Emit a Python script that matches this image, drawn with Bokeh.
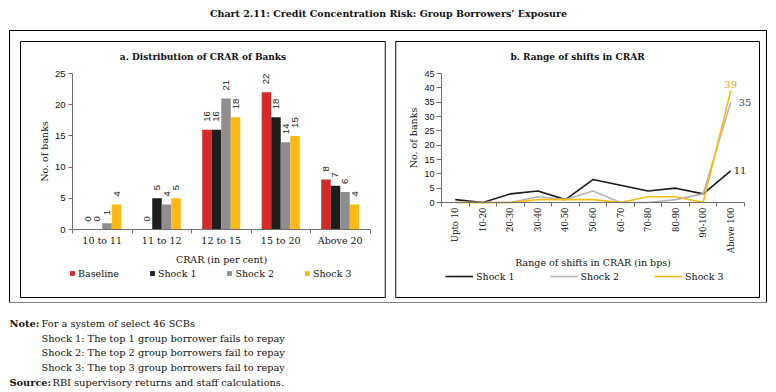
import numpy as np
from bokeh.plotting import figure
from bokeh.layouts import column, row
from bokeh.models import ColumnDataSource, Range1d, FixedTicker, Label, Span
from bokeh.core.properties import value
from bokeh.transform import dodge
from bokeh.embed import file_html
from bokeh.resources import INLINE

# ---------------- data ----------------
crar_bins = ["10 to 11", "11 to 12", "12 to 15", "15 to 20", "Above 20"]
baseline = [0, 0, 16, 22, 8]
shock1_bars = [0, 5, 16, 18, 7]
shock2_bars = [1, 4, 21, 14, 6]
shock3_bars = [4, 5, 18, 15, 4]
bar_series = ["Baseline", "Shock 1", "Shock 2", "Shock 3"]

shift_bins = ["Upto 10", "10-20", "20-30", "30-40", "40-50", "50-60", "60-70",
              "70-80", "80-90", "90-100", "Above 100"]
shock1_shift = [1, 0, 3, 4, 1, 8, 6, 4, 5, 3, 11]
shock2_shift = [0, 0, 0, 2, 1, 4, 0, 0, 1, 3, 35]
shock3_shift = [0, 0, 0, 1, 1, 1, 0, 2, 2, 0, 39]
line_series = ["Shock 1", "Shock 2", "Shock 3"]

bar_ticks = [0, 5, 10, 15, 20, 25]
line_ticks = [0, 5, 10, 15, 20, 25, 30, 35, 40, 45]

title_text = "Chart 2.11: Credit Concentration Risk: Group Borrowers\u2019 Exposure"
panel_a_title = "a. Distribution of CRAR of Banks"
panel_b_title = "b. Range of shifts in CRAR"
note_lines = ["For a system of select 46 SCBs",
              "Shock 1: The top 1 group borrower fails to repay",
              "Shock 2: The top 2 group borrowers fail to repay",
              "Shock 3: The top 3 group borrowers fail to repay"]
source_text = "RBI supervisory returns and staff calculations."

# ---------------- styles ----------------
SERIF = "DejaVu Serif"
SANS = "Liberation Sans"
INK = "#111111"
bar_colors = ["#d42a27", "#1e1e1c", "#8e8e90", "#fdb913"]
line_colors = ["#1a1a1a", "#b4b4b4", "#fdb913"]
end_label_colors = ["#1a1a1a", "#444444", "#f0a500"]
AXIS = "#6e6e6e"
EDGE = "#8a8a8a"
FS = "9.5px"

# ---------------- layout geometry (page pixels) ----------------
# Each panel's plot frame is the panel box; the axes sit inside it at fixed positions.
TOP_H = 31
MID_LEFT = 10
MID_H = 271
A_CANVAS = (380, MID_H)
A_LEFT = MID_LEFT
A_FRAME = (20, 385, 41, 297)   # frame left, right, top, bottom
A_AXES = (72, 369.5, 229, 73)  # x of first/last band edge, y of value 0 / top tick
B_CANVAS = (376, MID_H)
B_LEFT = MID_LEFT + A_CANVAS[0]
B_FRAME = (395, 759, 41, 297)
B_AXES = (441, 744, 202, 73)


def lin(v0, p0, v1, p1, p):
    return v0 + (p - p0) * (v1 - v0) / (p1 - p0)


def blank_fig(w, h):
    f = figure(width=w, height=h, x_range=Range1d(0, w), y_range=Range1d(0, h), title=None,
               x_axis_type=None, y_axis_type=None, output_backend="svg",
               toolbar_location=None, min_border=0)
    f.frame_align = False
    f.outline_line_color = None
    f.grid.visible = False
    return f


def panel_fig(canvas, frame, axes, canvas_left, nbins, ymax):
    fl, fr, ft, fb = frame
    xl, xr, y0, ytop = axes
    xs = (lin(-0.5, xl, nbins - 0.5, xr, fl), lin(-0.5, xl, nbins - 0.5, xr, fr))
    ys = (lin(0, y0, ymax, ytop, fb), lin(0, y0, ymax, ytop, ft))
    p = figure(width=canvas[0], height=canvas[1], x_range=Range1d(*xs), y_range=Range1d(*ys),
               title=None, output_backend="svg", toolbar_location=None,
               min_border_left=fl - canvas_left, min_border_right=canvas[0] - (fr - canvas_left),
               min_border_top=ft - TOP_H, min_border_bottom=canvas[1] - (fb - TOP_H))
    p.frame_align = False
    p.outline_line_color = "#000000"
    p.outline_line_width = 1
    p.grid.visible = False
    return p


def px_to_y(axes, ymax, py):
    return lin(0, axes[2], ymax, axes[3], py)


def style_axis_label(ax, text, standoff):
    ax.axis_label = text
    ax.axis_label_text_font = SERIF
    ax.axis_label_text_font_size = FS
    ax.axis_label_text_font_style = "normal"
    ax.axis_label_text_color = INK
    ax.axis_label_standoff = standoff


def style_x_axis(ax, n, labels, font_size, standoff, orientation=None):
    ax.fixed_location = 0
    ax.bounds = (-0.5, n - 0.5)
    ax.ticker = FixedTicker(ticks=list(range(n)), minor_ticks=[i - 0.5 for i in range(n + 1)])
    ax.major_label_overrides = {i: lab for i, lab in enumerate(labels)}
    if orientation is not None:
        ax.major_label_orientation = orientation
    ax.major_tick_line_color = None
    ax.major_tick_out = 4
    ax.minor_tick_line_color = AXIS
    ax.minor_tick_out = 4
    ax.minor_tick_in = 0
    ax.axis_line_color = AXIS
    ax.major_label_text_font = SERIF
    ax.major_label_text_font_size = font_size
    ax.major_label_text_color = INK
    ax.major_label_standoff = standoff


def style_y_axis(ax, ticks, font_size, tick_out, standoff):
    ax.fixed_location = -0.5
    ax.bounds = (0, max(ticks))
    ax.ticker = FixedTicker(ticks=ticks)
    ax.minor_tick_line_color = None
    ax.major_tick_out = tick_out
    ax.major_tick_in = 0
    ax.major_tick_line_color = AXIS
    ax.axis_line_color = AXIS
    ax.major_label_text_font = SANS
    ax.major_label_text_font_size = font_size
    ax.major_label_text_color = INK
    ax.major_label_standoff = standoff


def style_legend(leg, glyph_w, glyph_h, spacing, loc):
    leg.orientation = "horizontal"
    leg.location = loc
    leg.glyph_width = glyph_w
    leg.glyph_height = glyph_h
    leg.label_height = 12
    leg.label_standoff = 3
    leg.spacing = spacing
    leg.padding = 0
    leg.margin = 0
    leg.border_line_color = None
    leg.background_fill_alpha = 0
    leg.label_text_font = SERIF
    leg.label_text_font_size = FS
    leg.label_text_color = INK


# ---------------- title ----------------
pt = blank_fig(776, TOP_H)
pt.add_layout(Label(x=388, y=TOP_H - 13, text=title_text, text_align="center", text_baseline="middle",
                    text_font=SERIF, text_font_style="bold", text_font_size=FS, text_color=INK))

# ---------------- panel a: bars ----------------
pa = panel_fig(A_CANVAS, A_FRAME, A_AXES, A_LEFT, len(crar_bins), max(bar_ticks))
xa = list(range(len(crar_bins)))
src_a = ColumnDataSource(dict(x=xa, Baseline=baseline, S1=shock1_bars, S2=shock2_bars, S3=shock3_bars,
                              tB=[str(v) for v in baseline], t1=[str(v) for v in shock1_bars],
                              t2=[str(v) for v in shock2_bars], t3=[str(v) for v in shock3_bars]))
cols = ["Baseline", "S1", "S2", "S3"]
tcols = ["tB", "t1", "t2", "t3"]
offsets = [-0.24, -0.08, 0.08, 0.24]
for name, c, tc, off, col in zip(bar_series, cols, tcols, offsets, bar_colors):
    pa.vbar(x=dodge("x", off), top=c, width=0.16, source=src_a, fill_color=col, line_color=None,
            legend_label=name)
    pa.text(x=dodge("x", off), y=c, text=tc, source=src_a, angle=np.pi / 2, text_align="left",
            text_baseline="middle", y_offset=-8, text_font=value(SANS), text_font_size=value("9.5px"),
            text_color="#222222")
style_legend(pa.legend[0], 6, 6, 30, (49, 18))

style_x_axis(pa.xaxis[0], len(crar_bins), crar_bins, FS, 1)
style_axis_label(pa.xaxis[0], "CRAR (in per cent)", 5)
style_y_axis(pa.yaxis[0], bar_ticks, "9.5px", 4, 3)
style_axis_label(pa.yaxis[0], "No. of banks", 2)
pa.add_layout(Span(location=pa.x_range.end, dimension="height", line_color=EDGE, line_width=2))

pa.add_layout(Label(x=(pa.x_range.start + pa.x_range.end) / 2,
                    y=px_to_y(A_AXES, max(bar_ticks), 56), text=panel_a_title,
                    text_align="center", text_baseline="middle", text_font=SERIF,
                    text_font_style="bold", text_font_size="9px", text_color=INK))

# ---------------- panel b: lines ----------------
pb = panel_fig(B_CANVAS, B_FRAME, B_AXES, B_LEFT, len(shift_bins), max(line_ticks))
xb = list(range(len(shift_bins)))
src_b = ColumnDataSource(dict(x=xb, S1=shock1_shift, S2=shock2_shift, S3=shock3_shift))
for name, c, col in zip(line_series, ["S1", "S2", "S3"], line_colors):
    pb.line(x="x", y=c, source=src_b, line_color=col, line_width=1.6, legend_label=name)
style_legend(pb.legend[0], 28, 12, 35, (50, 15))

last = len(shift_bins) - 1
end_vals = [shock1_shift[last], shock2_shift[last], shock3_shift[last]]
end_xo = [3, 8, 0]
end_yo = [0, 0, 3]
end_align = ["left", "left", "center"]
end_base = ["middle", "middle", "bottom"]
for v, c, xo, yo, al, bl in zip(end_vals, end_label_colors, end_xo, end_yo, end_align, end_base):
    pb.add_layout(Label(x=last, y=v, text=str(v), x_offset=xo, y_offset=yo, text_align=al,
                        text_baseline=bl, text_color=c, text_font=SERIF, text_font_size="10px"))

style_x_axis(pb.xaxis[0], len(shift_bins), shift_bins, "8.5px", 1, np.pi / 2)
style_axis_label(pb.xaxis[0], "Range of shifts in CRAR (in bps)", 1)
style_y_axis(pb.yaxis[0], line_ticks, "9px", 5, 2)
style_axis_label(pb.yaxis[0], "No. of banks", 2)
pb.add_layout(Span(location=pb.x_range.start, dimension="height", line_color=EDGE, line_width=2))

pb.add_layout(Label(x=(pb.x_range.start + pb.x_range.end) / 2,
                    y=px_to_y(B_AXES, max(line_ticks), 56.5), text=panel_b_title,
                    text_align="center", text_baseline="middle", text_font=SERIF,
                    text_font_style="bold", text_font_size="9px", text_color=INK))

# ---------------- notes ----------------
NOTES_H = 90
pn = blank_fig(776, NOTES_H)
note_y = [NOTES_H - 21, NOTES_H - 35.5, NOTES_H - 50, NOTES_H - 65]
source_y = NOTES_H - 79.5
pn.add_layout(Label(x=9, y=note_y[0], text="Note:", text_baseline="middle", text_font=SERIF,
                    text_font_style="bold", text_font_size="9.8px", text_color=INK))
for yv, line in zip(note_y, note_lines):
    pn.add_layout(Label(x=41, y=yv, text=line, text_baseline="middle", text_font=SERIF,
                        text_font_size="9.8px", text_color=INK))
pn.add_layout(Label(x=9, y=source_y, text="Source:", text_baseline="middle", text_font=SERIF,
                    text_font_style="bold", text_font_size="9.8px", text_color=INK))
pn.add_layout(Label(x=52, y=source_y, text=source_text, text_baseline="middle", text_font=SERIF,
                    text_font_size="9.8px", text_color=INK))

mid = row(pa, pb, spacing=0, styles={"outline": "1px solid #000000"})
middle = row(blank_fig(MID_LEFT, MID_H), mid, spacing=0)
layout = column(pt, middle, pn, spacing=0)

open("out.html", "w").write(file_html(layout, INLINE))
